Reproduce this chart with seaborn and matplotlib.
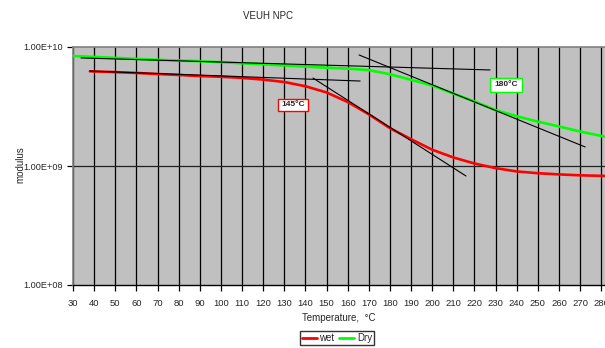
import numpy as np
import pandas as pd
import matplotlib
matplotlib.use("Agg")
import matplotlib.pyplot as plt
import seaborn as sns
from matplotlib.ticker import FixedLocator, NullLocator
from matplotlib.lines import Line2D

# ---- data ----
wet_T = [38, 50, 60, 70, 80, 90, 100, 110, 120, 130, 140, 150, 160, 170,
         180, 190, 200, 210, 220, 230, 240, 250, 260, 270, 282]
wet_mod = [6.25e9, 6.15e9, 6.05e9, 5.93e9, 5.82e9, 5.70e9, 5.62e9, 5.50e9, 5.32e9,
           5.08e9, 4.68e9, 4.15e9, 3.45e9, 2.72e9, 2.08e9, 1.68e9, 1.37e9, 1.18e9,
           1.05e9, 9.6e8, 9.0e8, 8.7e8, 8.5e8, 8.35e8, 8.25e8]
dry_T = [30, 40, 50, 60, 70, 80, 90, 100, 110, 120, 130, 140, 150, 160, 170,
         180, 190, 200, 210, 220, 230, 240, 250, 260, 270, 282]
dry_mod = [8.4e9, 8.25e9, 8.1e9, 7.95e9, 7.8e9, 7.7e9, 7.6e9, 7.45e9, 7.3e9, 7.15e9,
           7.0e9, 6.85e9, 6.7e9, 6.58e9, 6.4e9, 5.9e9, 5.3e9, 4.75e9, 4.06e9, 3.49e9,
           2.95e9, 2.62e9, 2.36e9, 2.15e9, 1.95e9, 1.76e9]

# tangent lines (start/end points)
tan_wet_flat_T = [38.0, 165.9]
tan_wet_flat_mod = [10**9.798, 10**9.714]
tan_wet_steep_T = [143.6, 216.0]
tan_wet_steep_mod = [10**9.739, 10**8.916]
tan_dry_flat_T = [33.8, 227.4]
tan_dry_flat_mod = [10**9.908, 10**9.807]
tan_dry_steep_T = [165.4, 272.4]
tan_dry_steep_mod = [10**9.933, 10**9.160]

x_ticks = list(range(30, 290, 10))
y_ticks = [1e8, 1e9, 1e10]
y_tick_labels = ["1.00E+08", "1.00E+09", "1.00E+10"]

# ---- plot ----
sns.set_style("white")
plt.rcParams['font.family'] = ['Liberation Sans', 'DejaVu Sans']

fig = plt.figure(figsize=(6.05, 3.48), dpi=100)
ax = fig.add_axes([73/605, 1 - 285/348, 1 - 73/605, (285 - 47)/348])
ax.set_facecolor("#C0C0C0")

df_wet = pd.DataFrame({"T": wet_T, "mod": wet_mod, "s": "wet"})
df_dry = pd.DataFrame({"T": dry_T, "mod": dry_mod, "s": "Dry"})
df = pd.concat([df_wet, df_dry], ignore_index=True)

ax.set_yscale("log")
ax.set_xlim(30, 281.8)
ax.set_ylim(1e8, 1e10)

# grid
for t in x_ticks:
    ax.axvline(t, color="black", lw=0.9, zorder=1)
ax.axhline(1e9, color="#202020", lw=0.9, zorder=1)

sns.lineplot(data=df, x="T", y="mod", hue="s", palette={"wet": "#FF0000", "Dry": "#00FF00"},
             hue_order=["wet", "Dry"], lw=1.9, ax=ax, legend=False, zorder=3, sort=True)

for tx, ty in [(tan_wet_flat_T, tan_wet_flat_mod), (tan_wet_steep_T, tan_wet_steep_mod),
               (tan_dry_flat_T, tan_dry_flat_mod), (tan_dry_steep_T, tan_dry_steep_mod)]:
    ax.plot(tx, ty, color="black", lw=0.8, zorder=4)

# annotations
fig.text(293/605, 1 - 105/348, "145°C", ha="center", va="center", fontsize=6, fontweight="bold",
         bbox=dict(boxstyle="square,pad=0.35", fc="white", ec="#FF0000", lw=1.0), zorder=5)
fig.text(506/605, 1 - 85/348, "180°C", ha="center", va="center", fontsize=6, fontweight="bold",
         bbox=dict(boxstyle="square,pad=0.45", fc="white", ec="#00FF00", lw=1.0), zorder=5)

# axes styling
ax.xaxis.set_major_locator(FixedLocator(x_ticks))
ax.set_xticklabels([str(t) for t in x_ticks], fontsize=6.8)
ax.yaxis.set_major_locator(FixedLocator(y_ticks))
ax.yaxis.set_minor_locator(NullLocator())
ax.set_yticklabels(y_tick_labels, fontsize=6.6)
ax.tick_params(axis="both", which="major", direction="out", length=4, width=0.9,
               color="black", pad=3, bottom=True, left=True)
ax.tick_params(axis="x", pad=6)

for side in ["top", "left"]:
    ax.spines[side].set_color("#808080")
    ax.spines[side].set_linewidth(1.2)
ax.spines["right"].set_visible(False)
ax.spines["bottom"].set_color("black")
ax.spines["bottom"].set_linewidth(1.0)

ax.set_xlabel("Temperature,  °C", fontsize=7, labelpad=4)
ax.set_ylabel("")
fig.text(20/605, 1 - 165/348, "modulus", rotation=90, ha="center", va="center", fontsize=7)

fig.text(268/605, 1 - 16/348, "VEUH NPC", ha="center", va="center", fontsize=7)

# legend
handles = [Line2D([], [], color="#FF0000", lw=2), Line2D([], [], color="#00FF00", lw=2)]
fig.legend(handles, ["wet", "Dry"], loc="center", bbox_to_anchor=(337/605, 1 - 338/348),
           ncol=2, fontsize=7, frameon=True, fancybox=False, edgecolor="black",
           handlelength=1.5, handletextpad=0.3, columnspacing=0.5, borderpad=0.25,
           borderaxespad=0)

fig.savefig("out.png", dpi=100)
